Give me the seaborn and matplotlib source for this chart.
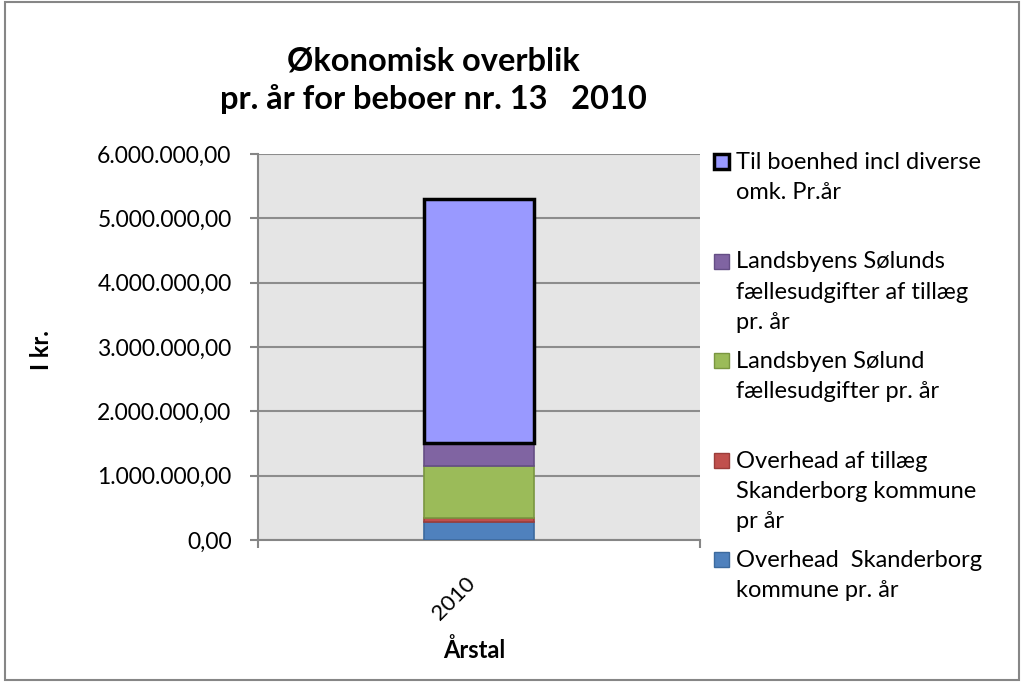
import numpy as np
import pandas as pd
import seaborn as sns
import matplotlib.pyplot as plt
from matplotlib.patches import Rectangle
from matplotlib.ticker import FuncFormatter, MultipleLocator

# Data
years = ["2010"]
series = [
    "Overhead  Skanderborg\nkommune pr. år",
    "Overhead af tillæg\nSkanderborg kommune\npr år",
    "Landsbyen Sølund\nfællesudgifter pr. år",
    "Landsbyens Sølunds\nfællesudgifter af tillæg\npr. år",
    "Til boenhed incl diverse\nomk. Pr.år",
]
values = [285000, 62000, 809000, 357000, 3790000]

colors = ["#4F81BD", "#C0504D", "#9BBB59", "#8064A2", "#9999FF"]
edges = ["#3C6A9E", "#9B3D3A", "#7A9640", "#654E85", "#000000"]
edge_w = [1.2, 1.2, 1.2, 1.2, 2.5]

W, H = 1026, 683
plt.rcParams['font.family'] = ['Lato', 'DejaVu Sans']

fig = plt.figure(figsize=(W / 100, H / 100), dpi=100)
ax = fig.add_axes([258 / W, 143 / H, 442 / W, 386 / H])
ax.set_facecolor("#E5E5E5")

# stacked bars
bottoms = np.concatenate([[0], np.cumsum(values)[:-1]])
for i in range(len(values)):
    sns.barplot(x=years, y=[values[i]], bottom=bottoms[i], color=colors[i],
                saturation=1, width=0.25, edgecolor=edges[i],
                linewidth=edge_w[i], ax=ax, zorder=3)

ax.set_ylim(0, 6000000)
ax.set_xlim(-0.5, 0.5)
ax.yaxis.set_major_locator(MultipleLocator(1000000))
ax.yaxis.set_major_formatter(FuncFormatter(
    lambda v, p: f"{v:,.2f}".replace(",", "X").replace(".", ",").replace("X", ".")))
ax.yaxis.grid(True, color="#8C8C8C", lw=1.5, zorder=0)
ax.set_axisbelow(True)

for s in ["top", "right"]:
    ax.spines[s].set_visible(False)
for s in ["left", "bottom"]:
    ax.spines[s].set_color("#868686")
    ax.spines[s].set_linewidth(1.5)

ax.tick_params(axis="y", length=6, width=1.5, color="#868686", pad=13, labelsize=16.5)
ax.set_xticks([-0.5, 0.5], labels=["", ""])
ax.tick_params(axis="x", which="major", length=6, width=1.5, color="#868686")
ax.set_xticks([0], labels=years, minor=True)
ax.tick_params(axis="x", which="minor", length=0, pad=24, labelsize=16)
for lab in ax.get_xticklabels(minor=True):
    lab.set_rotation(45)
    lab.set_ha("right")
    lab.set_va("top")

ax.set_ylabel("I kr.", fontweight="bold", fontsize=17)
ax.yaxis.set_label_coords(-0.464, 0.492)
ax.set_xlabel("Årstal", fontweight="bold", fontsize=17)
ax.xaxis.set_label_coords(0.49, -0.255)

# title
fig.text(433 / W, 1 - 70 / H, "Økonomisk overblik", ha="center", va="baseline",
         fontsize=23.5, fontweight="bold")
fig.text(433 / W, 1 - 109 / H, "pr. år for beboer nr. 13   2010", ha="center",
         va="baseline", fontsize=23.5, fontweight="bold")

# legend, top entry is the last series
for k, i in enumerate(range(len(series) - 1, -1, -1)):
    top = 154 + k * 99.5
    fig.add_artist(Rectangle((714 / W, 1 - (top + 15) / H), 15 / W, 15 / H,
                             transform=fig.transFigure, facecolor=colors[i],
                             edgecolor=edges[i], lw=edge_w[i] if i == 4 else 1.0))
    fig.text(736 / W, 1 - (top - 2) / H, series[i], ha="left", va="top",
             fontsize=17, linespacing=1.55)

# chart border
fig.add_artist(Rectangle((5 / W, 3 / H), 1014 / W, 678 / H, transform=fig.transFigure,
                         fill=False, edgecolor="#868686", lw=1.5))

fig.savefig("out.png", dpi=100)
